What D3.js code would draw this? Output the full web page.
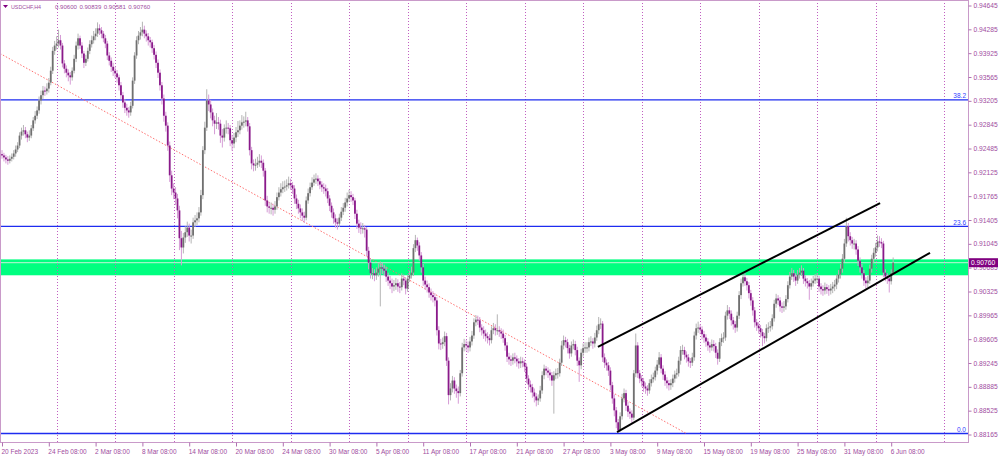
<!DOCTYPE html>
<html><head><meta charset="utf-8">
<script src="https://cdn.jsdelivr.net/npm/d3@7/dist/d3.min.js"></script>
<style>html,body{margin:0;padding:0;background:#fff;overflow:hidden}text{font-family:"Liberation Sans",Arial,sans-serif}</style>
</head><body><svg id="c" width="1000" height="456"></svg>
<script>
const symbol = "USDCHF,H4";
const open = [
0.9240,0.9238,0.9235,0.9232,0.9230,0.9233,0.9236,0.9241,0.9247,0.9253,
0.9268,0.9274,0.9276,0.9270,0.9265,0.9268,0.9279,0.9291,0.9298,0.9306,
0.9321,0.9329,0.9336,0.9335,0.9339,0.9348,0.9366,0.9396,0.9404,0.9407,
0.9412,0.9404,0.9377,0.9369,0.9363,0.9359,0.9356,0.9366,0.9384,0.9404,
0.9415,0.9404,0.9392,0.9378,0.9384,0.9396,0.9406,0.9412,0.9418,0.9422,
0.9430,0.9427,0.9422,0.9415,0.9407,0.9389,0.9381,0.9372,0.9366,0.9362,
0.9356,0.9344,0.9329,0.9318,0.9310,0.9306,0.9303,0.9313,0.9351,0.9389,
0.9412,0.9419,0.9424,0.9428,0.9422,0.9418,0.9412,0.9409,0.9400,0.9390,
0.9378,0.9363,0.9344,0.9324,0.9298,0.9283,0.9253,0.9208,0.9188,0.9182,
0.9173,0.9155,0.9113,0.9099,0.9114,0.9122,0.9129,0.9117,0.9117,0.9137,
0.9140,0.9143,0.9152,0.9178,0.9246,0.9280,0.9321,0.9315,0.9303,0.9291,
0.9286,0.9288,0.9286,0.9268,0.9265,0.9279,0.9280,0.9279,0.9261,0.9256,
0.9265,0.9273,0.9276,0.9283,0.9288,0.9289,0.9291,0.9282,0.9246,0.9226,
0.9223,0.9224,0.9227,0.9230,0.9227,0.9215,0.9170,0.9161,0.9159,0.9159,
0.9156,0.9161,0.9175,0.9182,0.9187,0.9190,0.9191,0.9193,0.9196,0.9193,
0.9188,0.9173,0.9165,0.9158,0.9152,0.9147,0.9144,0.9170,0.9181,0.9190,
0.9197,0.9202,0.9203,0.9199,0.9194,0.9190,0.9188,0.9184,0.9173,0.9162,
0.9152,0.9143,0.9137,0.9135,0.9144,0.9153,0.9159,0.9167,0.9173,0.9178,
0.9175,0.9170,0.9150,0.9135,0.9129,0.9128,0.9128,0.9126,0.9094,0.9076,
0.9060,0.9060,0.9057,0.9061,0.9067,0.9069,0.9067,0.9064,0.9055,0.9049,
0.9045,0.9040,0.9042,0.9045,0.9040,0.9039,0.9052,0.9049,0.9037,0.9052,
0.9057,0.9061,0.9098,0.9110,0.9102,0.9087,0.9069,0.9049,0.9043,0.9039,
0.9031,0.9027,0.9024,0.9019,0.8974,0.8954,0.8953,0.8956,0.8965,0.8928,
0.8876,0.8886,0.8898,0.8886,0.8882,0.8879,0.8909,0.8948,0.8953,0.8951,
0.8948,0.8957,0.8966,0.8986,0.8990,0.8989,0.8978,0.8974,0.8969,0.8965,
0.8962,0.8959,0.8974,0.8977,0.8974,0.8974,0.8972,0.8969,0.8962,0.8951,
0.8934,0.8930,0.8928,0.8933,0.8931,0.8927,0.8924,0.8927,0.8925,0.8919,
0.8901,0.8892,0.8888,0.8880,0.8874,0.8868,0.8871,0.8883,0.8906,0.8916,
0.8913,0.8910,0.8906,0.8898,0.8906,0.8909,0.8909,0.8925,0.8951,0.8959,
0.8956,0.8947,0.8939,0.8951,0.8953,0.8944,0.8928,0.8921,0.8940,0.8947,
0.8948,0.8948,0.8956,0.8957,0.8954,0.8963,0.8974,0.8983,0.8984,0.8933,
0.8925,0.8921,0.8913,0.8891,0.8871,0.8853,0.8835,0.8823,0.8844,0.8871,
0.8879,0.8860,0.8851,0.8848,0.8842,0.8909,0.8951,0.8909,0.8901,0.8897,
0.8889,0.8886,0.8883,0.8894,0.8900,0.8903,0.8913,0.8922,0.8933,0.8916,
0.8907,0.8898,0.8894,0.8891,0.8894,0.8901,0.8907,0.8909,0.8928,0.8944,
0.8944,0.8937,0.8933,0.8927,0.8925,0.8933,0.8966,0.8977,0.8978,0.8975,
0.8968,0.8963,0.8957,0.8951,0.8948,0.8953,0.8950,0.8940,0.8931,0.8956,
0.8962,0.8963,0.8996,0.9004,0.8999,0.8989,0.8983,0.8978,0.8996,0.9027,
0.9045,0.9054,0.9048,0.9042,0.9030,0.9019,0.9004,0.8986,0.8981,0.8977,
0.8971,0.8965,0.8962,0.8977,0.8978,0.8980,0.8992,0.9014,0.9022,0.9019,
0.9010,0.9008,0.9010,0.9021,0.9042,0.9055,0.9060,0.9055,0.9049,0.9058,
0.9061,0.9064,0.9052,0.9048,0.9045,0.9040,0.9045,0.9049,0.9052,0.9052,
0.9040,0.9036,0.9034,0.9039,0.9036,0.9034,0.9037,0.9040,0.9043,0.9052,
0.9058,0.9067,0.9082,0.9105,0.9131,0.9116,0.9110,0.9105,0.9105,0.9096,
0.9079,0.9069,0.9060,0.9049,0.9045,0.9049,0.9067,0.9082,0.9091,0.9099,
0.9108,0.9107,0.9105,0.9061,0.9055,0.9052,0.9048,0.90600];
const high = [
0.9246,0.9242,0.9239,0.9237,0.9238,0.9241,0.9246,0.9253,0.9258,0.9273,
0.9280,0.9284,0.9281,0.9274,0.9276,0.9284,0.9296,0.9305,0.9312,0.9327,
0.9336,0.9343,0.9342,0.9347,0.9355,0.9372,0.9402,0.9411,0.9418,0.9428,
0.9420,0.9408,0.9382,0.9374,0.9368,0.9364,0.9371,0.9390,0.9410,0.9422,
0.9419,0.9409,0.9396,0.9390,0.9401,0.9412,0.9419,0.9426,0.9430,0.9439,
0.9436,0.9432,0.9426,0.9420,0.9411,0.9394,0.9386,0.9378,0.9372,0.9367,
0.9360,0.9349,0.9334,0.9323,0.9316,0.9311,0.9319,0.9356,0.9394,0.9418,
0.9426,0.9432,0.9440,0.9434,0.9427,0.9423,0.9417,0.9413,0.9405,0.9395,
0.9383,0.9368,0.9349,0.9330,0.9304,0.9288,0.9259,0.9215,0.9196,0.9190,
0.9180,0.9162,0.9124,0.9121,0.9131,0.9138,0.9135,0.9126,0.9144,0.9148,
0.9152,0.9160,0.9186,0.9252,0.9289,0.9338,0.9330,0.9322,0.9309,0.9298,
0.9302,0.9296,0.9292,0.9278,0.9285,0.9291,0.9287,0.9284,0.9269,0.9272,
0.9281,0.9290,0.9291,0.9299,0.9297,0.9304,0.9296,0.9287,0.9251,0.9232,
0.9233,0.9236,0.9240,0.9238,0.9232,0.9219,0.9177,0.9168,0.9167,0.9165,
0.9169,0.9182,0.9190,0.9196,0.9199,0.9200,0.9202,0.9206,0.9203,0.9198,
0.9193,0.9179,0.9171,0.9164,0.9158,0.9153,0.9176,0.9188,0.9197,0.9205,
0.9209,0.9211,0.9208,0.9204,0.9199,0.9196,0.9194,0.9189,0.9178,0.9167,
0.9158,0.9149,0.9143,0.9150,0.9160,0.9166,0.9174,0.9182,0.9186,0.9184,
0.9180,0.9174,0.9156,0.9141,0.9137,0.9136,0.9133,0.9130,0.9100,0.9082,
0.9068,0.9066,0.9069,0.9075,0.9078,0.9076,0.9073,0.9070,0.9061,0.9056,
0.9052,0.9050,0.9053,0.9051,0.9047,0.9060,0.9058,0.9054,0.9058,0.9064,
0.9070,0.9104,0.9118,0.9114,0.9107,0.9092,0.9074,0.9055,0.9049,0.9045,
0.9037,0.9033,0.9030,0.9024,0.8980,0.8961,0.8963,0.8972,0.8970,0.8933,
0.8894,0.8905,0.8903,0.8892,0.8889,0.8914,0.8955,0.8961,0.8959,0.8957,
0.8964,0.8973,0.8992,0.8997,0.8996,0.8994,0.8983,0.8980,0.8975,0.8971,
0.8968,0.8980,0.8985,0.8983,0.8998,0.8980,0.8977,0.8975,0.8967,0.8956,
0.8940,0.8936,0.8939,0.8940,0.8936,0.8932,0.8934,0.8933,0.8930,0.8924,
0.8906,0.8898,0.8893,0.8886,0.8879,0.8877,0.8890,0.8912,0.8922,0.8920,
0.8918,0.8915,0.8911,0.8912,0.8916,0.8917,0.8931,0.8958,0.8966,0.8964,
0.8961,0.8952,0.8957,0.8960,0.8958,0.8949,0.8933,0.8946,0.8954,0.8956,
0.8956,0.8963,0.8965,0.8962,0.8970,0.8981,0.8994,0.8992,0.8988,0.8939,
0.8930,0.8926,0.8918,0.8896,0.8877,0.8858,0.8840,0.8850,0.8878,0.8886,
0.8884,0.8866,0.8856,0.8853,0.8914,0.8969,0.8956,0.8914,0.8906,0.8902,
0.8895,0.8891,0.8900,0.8907,0.8910,0.8919,0.8929,0.8941,0.8938,0.8921,
0.8912,0.8903,0.8899,0.8900,0.8907,0.8913,0.8916,0.8934,0.8950,0.8952,
0.8949,0.8942,0.8938,0.8932,0.8940,0.8972,0.8984,0.8987,0.8983,0.8980,
0.8973,0.8968,0.8962,0.8956,0.8960,0.8959,0.8955,0.8945,0.8962,0.8969,
0.8971,0.9002,0.9012,0.9009,0.9004,0.8994,0.8988,0.9002,0.9033,0.9052,
0.9061,0.9060,0.9053,0.9047,0.9035,0.9024,0.9009,0.8991,0.8986,0.8982,
0.8976,0.8970,0.8983,0.8986,0.8988,0.8998,0.9020,0.9029,0.9027,0.9024,
0.9016,0.9018,0.9027,0.9048,0.9062,0.9068,0.9065,0.9060,0.9065,0.9068,
0.9072,0.9068,0.9057,0.9053,0.9050,0.9052,0.9056,0.9059,0.9060,0.9056,
0.9045,0.9042,0.9046,0.9044,0.9042,0.9044,0.9047,0.9050,0.9058,0.9065,
0.9074,0.9089,0.9112,0.9144,0.9136,0.9122,0.9115,0.9112,0.9110,0.9101,
0.9084,0.9074,0.9065,0.9054,0.9056,0.9073,0.9088,0.9098,0.9106,0.9117,
0.9116,0.9113,0.9109,0.9066,0.9060,0.9058,0.9066,0.90839];
const low = [
0.9233,0.9229,0.9226,0.9224,0.9226,0.9229,0.9232,0.9236,0.9243,0.9249,
0.9262,0.9268,0.9264,0.9258,0.9260,0.9264,0.9275,0.9286,0.9293,0.9301,
0.9315,0.9323,0.9328,0.9330,0.9333,0.9344,0.9361,0.9390,0.9398,0.9401,
0.9398,0.9371,0.9362,0.9356,0.9350,0.9345,0.9351,0.9362,0.9379,0.9398,
0.9399,0.9385,0.9370,0.9373,0.9380,0.9391,0.9401,0.9407,0.9412,0.9417,
0.9420,0.9415,0.9409,0.9400,0.9382,0.9374,0.9364,0.9358,0.9355,0.9348,
0.9336,0.9322,0.9310,0.9302,0.9298,0.9295,0.9298,0.9309,0.9346,0.9384,
0.9406,0.9413,0.9418,0.9415,0.9410,0.9404,0.9401,0.9393,0.9383,0.9370,
0.9355,0.9336,0.9315,0.9289,0.9274,0.9245,0.9198,0.9178,0.9172,0.9163,
0.9143,0.9095,0.9072,0.9090,0.9106,0.9115,0.9108,0.9105,0.9112,0.9130,
0.9133,0.9137,0.9147,0.9172,0.9240,0.9275,0.9305,0.9294,0.9282,0.9270,
0.9278,0.9277,0.9257,0.9250,0.9259,0.9271,0.9270,0.9252,0.9245,0.9249,
0.9258,0.9266,0.9270,0.9277,0.9280,0.9282,0.9274,0.9238,0.9217,0.9214,
0.9215,0.9219,0.9221,0.9219,0.9206,0.9162,0.9152,0.9150,0.9149,0.9147,
0.9150,0.9156,0.9170,0.9176,0.9181,0.9183,0.9185,0.9188,0.9186,0.9180,
0.9165,0.9157,0.9150,0.9143,0.9139,0.9136,0.9140,0.9165,0.9176,0.9186,
0.9192,0.9195,0.9192,0.9187,0.9183,0.9180,0.9176,0.9166,0.9154,0.9144,
0.9135,0.9129,0.9126,0.9130,0.9139,0.9148,0.9153,0.9161,0.9168,0.9168,
0.9163,0.9142,0.9127,0.9121,0.9119,0.9120,0.9114,0.9086,0.9066,0.9052,
0.9051,0.9048,0.9050,0.9055,0.9010,0.9059,0.9056,0.9047,0.9041,0.9036,
0.9030,0.9033,0.9035,0.9032,0.9030,0.9034,0.9042,0.9028,0.9032,0.9047,
0.9052,0.9056,0.9092,0.9094,0.9079,0.9061,0.9041,0.9035,0.9031,0.9023,
0.9019,0.9016,0.9010,0.8966,0.8945,0.8944,0.8946,0.8950,0.8920,0.8862,
0.8868,0.8880,0.8878,0.8872,0.8863,0.8874,0.8904,0.8942,0.8943,0.8940,
0.8942,0.8951,0.8961,0.8980,0.8982,0.8971,0.8966,0.8961,0.8957,0.8954,
0.8951,0.8954,0.8968,0.8966,0.8967,0.8964,0.8961,0.8955,0.8943,0.8926,
0.8922,0.8920,0.8922,0.8924,0.8919,0.8916,0.8917,0.8918,0.8911,0.8894,
0.8884,0.8880,0.8872,0.8865,0.8859,0.8861,0.8866,0.8878,0.8900,0.8906,
0.8902,0.8898,0.8890,0.8848,0.8900,0.8901,0.8904,0.8920,0.8945,0.8948,
0.8939,0.8931,0.8934,0.8945,0.8936,0.8920,0.8896,0.8915,0.8934,0.8940,
0.8940,0.8942,0.8950,0.8946,0.8948,0.8958,0.8968,0.8976,0.8926,0.8917,
0.8913,0.8905,0.8883,0.8863,0.8844,0.8826,0.8820,0.8821,0.8839,0.8865,
0.8852,0.8843,0.8840,0.8834,0.8838,0.8903,0.8902,0.8894,0.8889,0.8881,
0.8878,0.8875,0.8878,0.8889,0.8895,0.8898,0.8907,0.8917,0.8909,0.8899,
0.8890,0.8886,0.8883,0.8884,0.8888,0.8895,0.8901,0.8904,0.8922,0.8937,
0.8930,0.8925,0.8919,0.8917,0.8920,0.8928,0.8960,0.8970,0.8968,0.8960,
0.8955,0.8949,0.8943,0.8940,0.8943,0.8942,0.8932,0.8922,0.8926,0.8950,
0.8955,0.8958,0.8990,0.8991,0.8981,0.8975,0.8970,0.8972,0.8991,0.9021,
0.9040,0.9041,0.9034,0.9022,0.9011,0.8996,0.8978,0.8973,0.8969,0.8963,
0.8950,0.8954,0.8957,0.8970,0.8972,0.8975,0.8987,0.9008,0.9012,0.9002,
0.9000,0.9002,0.9005,0.9016,0.9037,0.9050,0.9047,0.9041,0.9044,0.9052,
0.9056,0.9044,0.9040,0.9037,0.9020,0.9035,0.9040,0.9044,0.9045,0.9032,
0.9028,0.9026,0.9028,0.9029,0.9026,0.9028,0.9030,0.9033,0.9036,0.9046,
0.9052,0.9061,0.9077,0.9100,0.9108,0.9102,0.9097,0.9096,0.9088,0.9071,
0.9061,0.9052,0.9041,0.9037,0.9039,0.9044,0.9061,0.9076,0.9085,0.9093,
0.9100,0.9098,0.9054,0.9048,0.9044,0.9031,0.9043,0.90581];
const close = [
0.9238,0.9235,0.9232,0.9230,0.9233,0.9236,0.9241,0.9247,0.9253,0.9268,
0.9274,0.9276,0.9270,0.9265,0.9268,0.9279,0.9291,0.9298,0.9306,0.9321,
0.9329,0.9336,0.9335,0.9339,0.9348,0.9366,0.9396,0.9404,0.9407,0.9412,
0.9404,0.9377,0.9369,0.9363,0.9359,0.9356,0.9366,0.9384,0.9404,0.9415,
0.9404,0.9392,0.9378,0.9384,0.9396,0.9406,0.9412,0.9418,0.9422,0.9430,
0.9427,0.9422,0.9415,0.9407,0.9389,0.9381,0.9372,0.9366,0.9362,0.9356,
0.9344,0.9329,0.9318,0.9310,0.9306,0.9303,0.9313,0.9351,0.9389,0.9412,
0.9419,0.9424,0.9428,0.9422,0.9418,0.9412,0.9409,0.9400,0.9390,0.9378,
0.9363,0.9344,0.9324,0.9298,0.9283,0.9253,0.9208,0.9188,0.9182,0.9173,
0.9155,0.9113,0.9099,0.9114,0.9122,0.9129,0.9117,0.9117,0.9137,0.9140,
0.9143,0.9152,0.9178,0.9246,0.9280,0.9321,0.9315,0.9303,0.9291,0.9286,
0.9288,0.9286,0.9268,0.9265,0.9279,0.9280,0.9279,0.9261,0.9256,0.9265,
0.9273,0.9276,0.9283,0.9288,0.9289,0.9291,0.9282,0.9246,0.9226,0.9223,
0.9224,0.9227,0.9230,0.9227,0.9215,0.9170,0.9161,0.9159,0.9159,0.9156,
0.9161,0.9175,0.9182,0.9187,0.9190,0.9191,0.9193,0.9196,0.9193,0.9188,
0.9173,0.9165,0.9158,0.9152,0.9147,0.9144,0.9170,0.9181,0.9190,0.9197,
0.9202,0.9203,0.9199,0.9194,0.9190,0.9188,0.9184,0.9173,0.9162,0.9152,
0.9143,0.9137,0.9135,0.9144,0.9153,0.9159,0.9167,0.9173,0.9178,0.9175,
0.9170,0.9150,0.9135,0.9129,0.9128,0.9128,0.9126,0.9094,0.9076,0.9060,
0.9060,0.9057,0.9061,0.9067,0.9069,0.9067,0.9064,0.9055,0.9049,0.9045,
0.9040,0.9042,0.9045,0.9040,0.9039,0.9052,0.9049,0.9037,0.9052,0.9057,
0.9061,0.9098,0.9110,0.9102,0.9087,0.9069,0.9049,0.9043,0.9039,0.9031,
0.9027,0.9024,0.9019,0.8974,0.8954,0.8953,0.8956,0.8965,0.8928,0.8876,
0.8886,0.8898,0.8886,0.8882,0.8879,0.8909,0.8948,0.8953,0.8951,0.8948,
0.8957,0.8966,0.8986,0.8990,0.8989,0.8978,0.8974,0.8969,0.8965,0.8962,
0.8959,0.8974,0.8977,0.8974,0.8974,0.8972,0.8969,0.8962,0.8951,0.8934,
0.8930,0.8928,0.8933,0.8931,0.8927,0.8924,0.8927,0.8925,0.8919,0.8901,
0.8892,0.8888,0.8880,0.8874,0.8868,0.8871,0.8883,0.8906,0.8916,0.8913,
0.8910,0.8906,0.8898,0.8906,0.8909,0.8909,0.8925,0.8951,0.8959,0.8956,
0.8947,0.8939,0.8951,0.8953,0.8944,0.8928,0.8921,0.8940,0.8947,0.8948,
0.8948,0.8956,0.8957,0.8954,0.8963,0.8974,0.8983,0.8984,0.8933,0.8925,
0.8921,0.8913,0.8891,0.8871,0.8853,0.8835,0.8823,0.8844,0.8871,0.8879,
0.8860,0.8851,0.8848,0.8842,0.8909,0.8951,0.8909,0.8901,0.8897,0.8889,
0.8886,0.8883,0.8894,0.8900,0.8903,0.8913,0.8922,0.8933,0.8916,0.8907,
0.8898,0.8894,0.8891,0.8894,0.8901,0.8907,0.8909,0.8928,0.8944,0.8944,
0.8937,0.8933,0.8927,0.8925,0.8933,0.8966,0.8977,0.8978,0.8975,0.8968,
0.8963,0.8957,0.8951,0.8948,0.8953,0.8950,0.8940,0.8931,0.8956,0.8962,
0.8963,0.8996,0.9004,0.8999,0.8989,0.8983,0.8978,0.8996,0.9027,0.9045,
0.9054,0.9048,0.9042,0.9030,0.9019,0.9004,0.8986,0.8981,0.8977,0.8971,
0.8965,0.8962,0.8977,0.8978,0.8980,0.8992,0.9014,0.9022,0.9019,0.9010,
0.9008,0.9010,0.9021,0.9042,0.9055,0.9060,0.9055,0.9049,0.9058,0.9061,
0.9064,0.9052,0.9048,0.9045,0.9040,0.9045,0.9049,0.9052,0.9052,0.9040,
0.9036,0.9034,0.9039,0.9036,0.9034,0.9037,0.9040,0.9043,0.9052,0.9058,
0.9067,0.9082,0.9105,0.9131,0.9116,0.9110,0.9105,0.9105,0.9096,0.9079,
0.9069,0.9060,0.9049,0.9045,0.9049,0.9067,0.9082,0.9091,0.9099,0.9108,
0.9107,0.9105,0.9061,0.9055,0.9052,0.9048,0.9060,0.90760];

const timeLabels = ["20 Feb 2023","24 Feb 08:00","2 Mar 08:00","8 Mar 08:00","14 Mar 08:00","20 Mar 08:00","24 Mar 08:00","30 Mar 08:00","5 Apr 08:00","11 Apr 08:00","17 Apr 08:00","21 Apr 08:00","27 Apr 08:00","3 May 08:00","9 May 08:00","15 May 08:00","19 May 08:00","25 May 08:00","31 May 08:00","6 Jun 08:00"];
const timeLabelBars = [0,24,48,72,96,120,144,168,192,216,240,264,288,312,336,360,384,408,432,456];
const gridBars = [28,58,88,118,148,178,208,238,268,298,328,358,388,418,448,483];
const priceTicks = [0.94645,0.94285,0.93925,0.93565,0.93205,0.92845,0.92485,0.92125,0.91765,0.91405,0.91045,0.90685,0.90325,0.89965,0.89605,0.89245,0.88885,0.88525,0.88165];
const fibLevels = [0.8818, 0.9131, 0.9322];
const fibLabels = ["0.0", "23.6", "38.2"];
const zonePrices = [0.9057, 0.9081];
const trendBars = [-1, 351];
const trendPrices = [0.9392, 0.8818];
const channelUpperBars = [305.6, 450.3];
const channelUpperPrices = [0.8949, 0.9166];
const channelLowerBars = [315.4, 475.9];
const channelLowerPrices = [0.8820, 0.9091];

const svg = d3.select("#c");
const plotR = 968, plotB = 442;
const n = close.length;
const x = d3.scaleLinear().domain([0, n - 1]).range([2, 2 + 1.95 * (n - 1)]);
const y = d3.scaleLinear().domain([priceTicks[priceTicks.length - 1], priceTicks[0]]).range([434.5, 5.5]);
const f5 = d3.format(".5f");

svg.append("rect").attr("width", 1000).attr("height", 456).attr("fill", "#fff");
svg.append("clipPath").attr("id", "pc").append("rect").attr("x", 0).attr("y", 0).attr("width", plotR).attr("height", plotB);
const g = svg.append("g").attr("clip-path", "url(#pc)");

// zone
g.append("rect").attr("x", 0).attr("width", plotR)
  .attr("y", y(zonePrices[1])).attr("height", y(zonePrices[0]) - y(zonePrices[1]))
  .attr("fill", "#00ff80");

// grid
g.selectAll("line.grid").data(gridBars).join("line").attr("class", "grid")
  .attr("x1", d => Math.round(x(d)) + 0.5).attr("x2", d => Math.round(x(d)) + 0.5)
  .attr("y1", 0).attr("y2", plotB)
  .attr("stroke", "#c15fc1").attr("stroke-width", 1).attr("stroke-dasharray", "1,2");

// fib lines
g.selectAll("line.fib").data(fibLevels).join("line").attr("class", "fib")
  .attr("x1", 0).attr("x2", plotR).attr("y1", d => y(d)).attr("y2", d => y(d))
  .attr("stroke", "#1e2cf0").attr("stroke-width", 1.3);
g.selectAll("text.fib").data(fibLevels).join("text").attr("class", "fib")
  .attr("x", plotR - 2).attr("y", d => y(d) - 1.5).attr("text-anchor", "end")
  .attr("font-size", 6.5).attr("fill", "#3040ff").text((d, i) => fibLabels[i]);

// red dotted trend line
const lineGen = d3.line().x(d => x(d[0])).y(d => y(d[1]));
g.append("path").datum(d3.zip(trendBars, trendPrices)).attr("d", lineGen)
  .attr("fill", "none").attr("stroke", "#ff7070").attr("stroke-width", 1).attr("stroke-dasharray", "1.5,1.8");

// bid line
g.append("line").attr("x1", 0).attr("x2", plotR)
  .attr("y1", y(close[n - 1])).attr("y2", y(close[n - 1]))
  .attr("stroke", "#c4f2d8").attr("stroke-width", 1);

// candles
const idx = d3.range(n);
const up = i => close[i] >= open[i];
g.selectAll("line.wick").data(idx).join("line").attr("class", "wick")
  .attr("x1", i => x(i)).attr("x2", i => x(i))
  .attr("y1", i => y(high[i])).attr("y2", i => y(low[i]))
  .attr("stroke", i => up(i) ? "#b4b4b4" : "#d69cd6").attr("stroke-width", 1);
g.selectAll("rect.body").data(idx).join("rect").attr("class", "body")
  .attr("x", i => x(i) - 0.9).attr("width", 1.8)
  .attr("y", i => y(Math.max(open[i], close[i])))
  .attr("height", i => Math.max(1, Math.abs(y(open[i]) - y(close[i]))))
  .attr("fill", i => up(i) ? "#707070" : "#8a1a8a");

// channel lines
[[channelUpperBars, channelUpperPrices], [channelLowerBars, channelLowerPrices]].forEach(([b, p]) => {
  g.append("path").datum(d3.zip(b, p)).attr("d", lineGen)
    .attr("fill", "none").attr("stroke", "#000").attr("stroke-width", 2);
});

// border
svg.append("rect").attr("x", 0.5).attr("y", 0.5).attr("width", plotR).attr("height", plotB)
  .attr("fill", "none").attr("stroke", "#c99ac9").attr("stroke-width", 1);

// right axis
const axR = svg.append("g").attr("transform", `translate(${plotR + 0.5},0)`)
  .call(d3.axisRight(y).tickValues(priceTicks).tickFormat(f5).tickSize(3).tickPadding(2));
axR.select(".domain").remove();
axR.selectAll(".tick line").attr("stroke", "#b070b0");
axR.selectAll(".tick text").attr("fill", "#a04ca0").attr("font-size", 6.7).attr("font-family", "Liberation Sans, Arial, sans-serif");

// bottom axis
const axB = svg.append("g").attr("transform", `translate(0,${plotB + 0.5})`)
  .call(d3.axisBottom(x).tickValues(timeLabelBars).tickFormat((d, i) => timeLabels[i]).tickSize(4).tickPadding(3));
axB.select(".domain").remove();
axB.selectAll(".tick line").attr("stroke", "#b070b0");
axB.selectAll(".tick text").attr("fill", "#a04ca0").attr("font-size", 6.5).attr("text-anchor", "start")
  .attr("x", -1).attr("font-family", "Liberation Sans, Arial, sans-serif");

// current price box
const yc = y(close[n - 1]);
svg.append("rect").attr("x", plotR + 1).attr("y", yc - 4.5).attr("width", 29).attr("height", 9).attr("fill", "#800080");
svg.append("text").attr("x", plotR + 3).attr("y", yc + 2.3).attr("font-size", 6.7).attr("fill", "#fff").text(f5(close[n - 1]));

// title
svg.append("path").attr("d", "M3,5 L8,5 L5.5,8 Z").attr("fill", "#800080");
const title = svg.append("g").attr("font-size", 6).attr("fill", "#a04ca0");
title.append("text").attr("x", 11).attr("y", 8.5).attr("textLength", 30).attr("lengthAdjust", "spacingAndGlyphs").text(symbol);
[open[n - 1], high[n - 1], low[n - 1], close[n - 1]].forEach((v, k) => {
  title.append("text").attr("x", 55 + k * 24.4).attr("y", 8.5).attr("textLength", 22).attr("lengthAdjust", "spacingAndGlyphs").text(f5(v));
});
</script></body></html>
